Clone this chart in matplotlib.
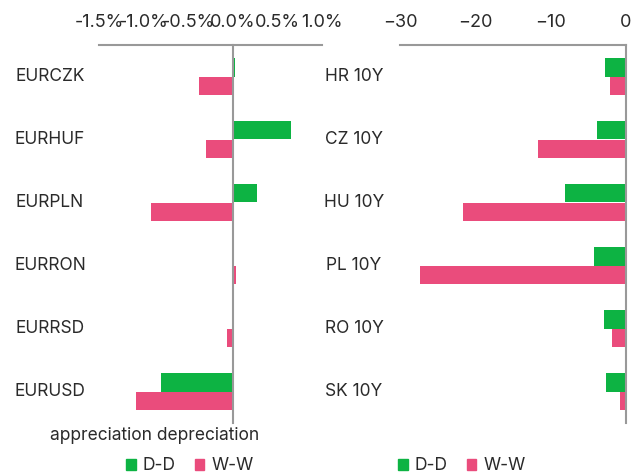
import numpy as np
import matplotlib.pyplot as plt
from matplotlib.patches import Patch
from matplotlib.transforms import blended_transform_factory

plt.rcParams['font.family'] = ['Inter', 'DejaVu Sans']

fx_pairs = ['EURCZK', 'EURHUF', 'EURPLN', 'EURRON', 'EURRSD', 'EURUSD']
fx_dd = [0.03, 0.65, 0.27, 0.0, 0.0, -0.81]
fx_ww = [-0.38, -0.30, -0.92, 0.04, -0.07, -1.08]

bonds = ['HR 10Y', 'CZ 10Y', 'HU 10Y', 'PL 10Y', 'RO 10Y', 'SK 10Y']
bond_dd = [-2.8, -3.8, -8.1, -4.3, -2.9, -2.6]
bond_ww = [-2.1, -11.7, -21.7, -27.4, -1.9, -0.8]

fx_ticks = [-1.5, -1.0, -0.5, 0.0, 0.5, 1.0]
bond_ticks = [-30, -20, -10, 0]

green = '#0db343'
pink = '#ea4c7c'
grey = '#999999'
txt = '#2a2a2a'

fig = plt.figure(figsize=(6.35, 4.74), dpi=100)
ax1 = fig.add_axes([99 / 635, 51 / 474, 223 / 635, 378 / 474])
ax2 = fig.add_axes([400 / 635, 51 / 474, 226 / 635, 378 / 474])

h = 0.286
y = np.arange(len(fx_pairs))

ax1.barh(y - h / 2, fx_dd, height=h, color=green)
ax1.barh(y + h / 2, fx_ww, height=h, color=pink)
ax1.set_xlim(-1.5, 1.0)
ax1.set_xticks(fx_ticks)
ax1.set_xticklabels(['{:.1f}%'.format(t) for t in fx_ticks])
ax1.spines['left'].set_position(('data', 0))
for s in ['right', 'bottom']:
    ax1.spines[s].set_visible(False)

ax2.barh(y - h / 2, bond_dd, height=h, color=green)
ax2.barh(y + h / 2, bond_ww, height=h, color=pink)
ax2.set_xlim(-30, 0)
ax2.set_xticks(bond_ticks)
for s in ['left', 'bottom']:
    ax2.spines[s].set_visible(False)

for ax, labels, xf in [(ax1, fx_pairs, 50 / 635), (ax2, bonds, 354 / 635)]:
    ax.set_ylim(len(labels) - 0.5, -0.5)
    ax.set_yticks([])
    for s in ax.spines.values():
        s.set_color(grey)
        s.set_linewidth(1.5)
    ax.xaxis.tick_top()
    ax.tick_params(axis='x', length=0, pad=10, labelsize=13, labelcolor=txt)
    tr = blended_transform_factory(fig.transFigure, ax.transData)
    for i, lab in enumerate(labels):
        ax.text(xf, i, lab, transform=tr, ha='center', va='center',
                fontsize=12.5, color=txt)

fig.text(50 / 635, 1 - 436 / 474, 'appreciation depreciation', ha='left',
         va='center', fontsize=12.5, color=txt)

handles = [Patch(color=green, label='D-D'), Patch(color=pink, label='W-W')]
for xc in [190 / 635, 462 / 635]:
    leg = fig.legend(handles=handles, loc='center', bbox_to_anchor=(xc, 1 - 466 / 474),
                     ncol=2, frameon=False, fontsize=12.5, handlelength=0.55,
                     handleheight=0.55, handletextpad=0.4, columnspacing=1.1)
    for t in leg.get_texts():
        t.set_color(txt)

fig.savefig('out.png', dpi=100)
